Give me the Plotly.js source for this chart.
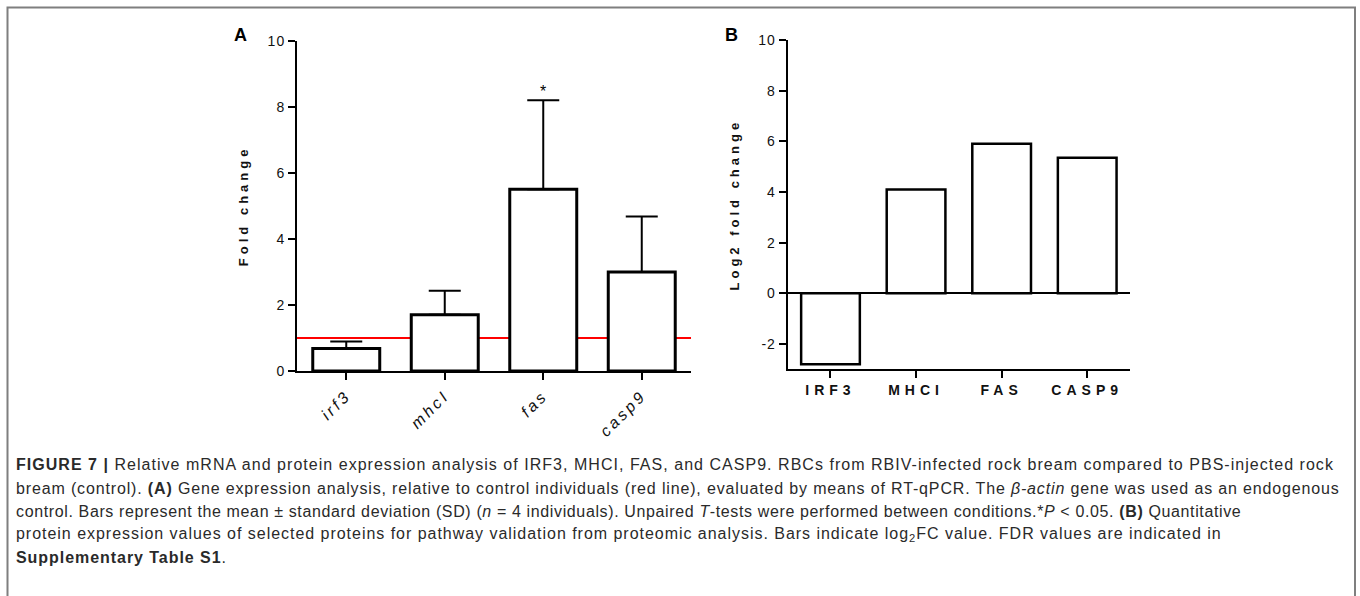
<!DOCTYPE html>
<html>
<head>
<meta charset="utf-8">
<script src="https://cdn.plot.ly/plotly-3.0.1.min.js"></script>
<style>
  html, body { margin: 0; padding: 0; background: #fff; }
  #chart { width: 1360px; height: 596px; }
  .xtick text { letter-spacing: 3px; }
  .x2tick text { letter-spacing: 5px; }
  text.ytitle, text.y2title { letter-spacing: 4px; }
  .ytick text, .y2tick text { letter-spacing: 1px; }
  g.annotation[data-index="3"] .annotation-text { letter-spacing: 1.03px; }
  g.annotation[data-index="4"] .annotation-text { letter-spacing: 0.85px; }
  g.annotation[data-index="5"] .annotation-text { letter-spacing: 0.63px; }
  g.annotation[data-index="6"] .annotation-text { letter-spacing: 0.97px; }
  g.annotation[data-index="7"] .annotation-text { letter-spacing: 0.95px; }
</style>
</head>
<body>
<div id="chart"></div>
<script>
// ---- Panel A data (RT-qPCR fold change, mean and SD) ----
const genesA = ['irf3', 'mhcI', 'fas', 'casp9'];
const foldMeanA = [0.68, 1.7, 5.5, 3.0];
const foldSdA = [0.21, 0.73, 2.7, 1.68];
const controlLevelA = 1;
const yTicksA = [0, 2, 4, 6, 8, 10];

// ---- Panel B data (proteomics log2 fold change) ----
const proteinsB = ['IRF3', 'MHCI', 'FAS', 'CASP9'];
const log2FcB = [-2.8, 4.1, 5.9, 5.35];
const yTicksB = [-2, 0, 2, 4, 6, 8, 10];
const yTickTextB = ['-2', '0', '2', '4', '6', '8', '10'];

// ---- Caption lines ----
const captionLines = [
  '<b>FIGURE 7 |</b> Relative mRNA and protein expression analysis of IRF3, MHCI, FAS, and CASP9. RBCs from RBIV-infected rock bream compared to PBS-injected rock',
  'bream (control). <b>(A)</b> Gene expression analysis, relative to control individuals (red line), evaluated by means of RT-qPCR. The <i>β-actin</i> gene was used as an endogenous',
  'control. Bars represent the mean ± standard deviation (SD) (<i>n</i> = 4 individuals). Unpaired <i>T</i>-tests were performed between conditions.*<i>P</i> &lt; 0.05. <b>(B)</b> Quantitative',
  'protein expression values of selected proteins for pathway validation from proteomic analysis. Bars indicate log<sub>2</sub>FC value. FDR values are indicated in',
  '<b>Supplementary Table S1</b>.'
];

const W = 1360, H = 596;
const px = v => v / W;
const py = v => 1 - v / H;
const FONT = '"Liberation Sans", Arial, Helvetica, sans-serif';
const CAPFONT = '"Liberation Sans", Arial, sans-serif';
const INK = '#111';

const traceA = {
  type: 'bar', x: genesA, y: foldMeanA, xaxis: 'x', yaxis: 'y',
  width: 0.68,
  marker: { color: '#ffffff', line: { color: '#000', width: 3 } },
  error_y: {
    type: 'data', symmetric: false, array: foldSdA,
    arrayminus: foldSdA.map(() => 0),
    color: '#000', thickness: 2, width: 16
  },
  hoverinfo: 'x+y', showlegend: false
};

const traceB = {
  type: 'bar', x: proteinsB, y: log2FcB, xaxis: 'x2', yaxis: 'y2',
  width: 0.686,
  marker: { color: '#ffffff', line: { color: '#000', width: 2.5 } },
  hoverinfo: 'x+y', showlegend: false
};

const axisCommon = {
  showgrid: false, showline: true, linecolor: '#000', linewidth: 2,
  ticks: 'outside', ticklen: 7, tickwidth: 2, tickcolor: '#000',
  zeroline: false, fixedrange: true
};

const captionY = [464, 488, 511, 534, 557];
const captionAnns = captionLines.map((t, i) => ({
  xref: 'paper', yref: 'paper', x: px(14), y: py(captionY[i]),
  xanchor: 'left', yanchor: 'middle', showarrow: false, align: 'left',
  text: t, font: { family: CAPFONT, size: 16, color: '#2a2a2a' }
}));

const layout = {
  width: W, height: H,
  margin: { l: 0, r: 0, t: 0, b: 0 },
  paper_bgcolor: '#fff', plot_bgcolor: 'rgba(0,0,0,0)',
  font: { family: FONT, color: INK },
  showlegend: false,
  xaxis: Object.assign({}, axisCommon, {
    domain: [px(297), px(691)], anchor: 'y', range: [-0.5, 3.5],
    tickangle: -45,
    tickfont: { family: FONT, size: 16, style: 'italic', color: INK }
  }),
  yaxis: Object.assign({}, axisCommon, {
    domain: [py(371), py(40.7)], anchor: 'x', range: [0, 10],
    tickvals: yTicksA, tickfont: { family: FONT, size: 14, color: INK },
    title: { text: 'Fold change', font: { family: FONT, size: 13, weight: 'bold', color: INK }, standoff: 16 }
  }),
  xaxis2: Object.assign({}, axisCommon, {
    domain: [px(787.7), px(1130)], anchor: 'y2', range: [-0.5, 3.5],
    tickfont: { family: FONT, size: 14, weight: 'bold', color: INK }
  }),
  yaxis2: Object.assign({}, axisCommon, {
    domain: [py(369.3), py(40)], anchor: 'x2', range: [-3, 10],
    tickvals: yTicksB, ticktext: yTickTextB,
    tickfont: { family: FONT, size: 14, color: INK },
    zeroline: true, zerolinecolor: '#000', zerolinewidth: 2,
    title: { text: 'Log2 fold change', font: { family: FONT, size: 13, weight: 'bold', color: INK }, standoff: 16 }
  }),
  shapes: [
    { type: 'line', xref: 'x domain', yref: 'y', x0: 0, x1: 1, y0: controlLevelA, y1: controlLevelA,
      line: { color: '#ff0000', width: 2 }, layer: 'below' },
    { type: 'rect', xref: 'paper', yref: 'paper', x0: px(7.5), x1: px(1355), y0: -0.05, y1: py(7.5),
      line: { color: '#7f7f7f', width: 2 }, fillcolor: 'rgba(0,0,0,0)' }
  ],
  annotations: [
    { xref: 'paper', yref: 'paper', x: px(240), y: py(35), xanchor: 'center', yanchor: 'middle',
      showarrow: false, text: '<b>A</b>', font: { family: FONT, size: 18, color: '#000' } },
    { xref: 'paper', yref: 'paper', x: px(731), y: py(35), xanchor: 'center', yanchor: 'middle',
      showarrow: false, text: '<b>B</b>', font: { family: FONT, size: 18, color: '#000' } },
    { xref: 'x', yref: 'y', x: genesA[2], y: foldMeanA[2] + foldSdA[2], xanchor: 'center', yanchor: 'bottom',
      showarrow: false, text: '*', font: { family: FONT, size: 16, color: '#000' }, yshift: -2 }
  ].concat(captionAnns)
};

Plotly.newPlot('chart', [traceA, traceB], layout, { displayModeBar: false, staticPlot: true });
</script>
</body>
</html>
